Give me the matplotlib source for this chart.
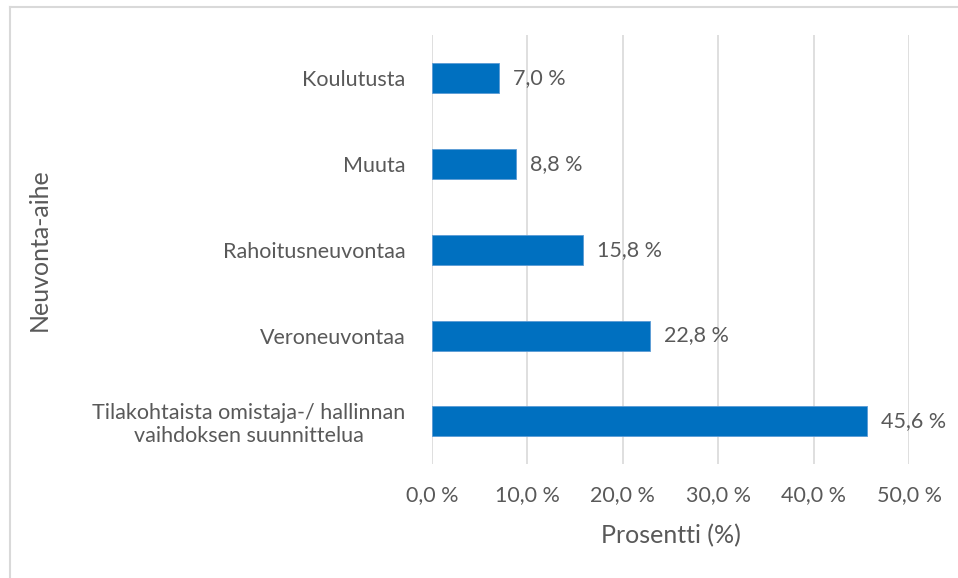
import matplotlib.pyplot as plt
from matplotlib.lines import Line2D

# Data (bottom to top as drawn)
categories = ["Tilakohtaista omistaja-/ hallinnan\nvaihdoksen suunnittelua",
              "Veroneuvontaa", "Rahoitusneuvontaa", "Muuta", "Koulutusta"]
values = [45.6, 22.8, 15.8, 8.8, 7.0]
xticks = [0, 10, 20, 30, 40, 50]

bar_color = "#0070C0"
text_color = "#595959"
grid_color = "#D9D9D9"

plt.rcParams['font.family'] = ['Lato', 'DejaVu Sans']

fig = plt.figure(figsize=(9.58, 5.78), dpi=100)
ax = fig.add_axes([0.451, 0.197, 0.498, 0.7416])

y = range(len(categories))
ax.barh(y, values, height=0.35, color=bar_color, edgecolor="#5B9BD5", linewidth=0.6, zorder=3)

# value labels
for yi, v in zip(y, values):
    ax.text(v + 1.5, yi, f"{v:.1f} %".replace(".", ","), va="center", ha="left",
            fontsize=15.5, color=text_color)

ax.set_xlim(0, 50)
ax.set_ylim(-0.5, len(categories) - 0.5)
ax.set_xticks(xticks)
ax.set_xticklabels([f"{t:.1f} %".replace(".", ",") for t in xticks])
ax.set_yticks(list(y))
ax.set_yticklabels(categories, multialignment="center")

ax.tick_params(axis="both", length=0, labelsize=15.5, labelcolor=text_color)
ax.tick_params(axis="y", pad=19)
ax.tick_params(axis="x", pad=15)

ax.grid(axis="x", color=grid_color, linewidth=1.2, zorder=0)
for s in ["top", "right", "bottom", "left"]:
    ax.spines[s].set_visible(False)

ax.set_xlabel("Prosentti (%)", fontsize=18, color=text_color, labelpad=14)
ax.set_ylabel("Neuvonta-aihe", fontsize=18, color=text_color)
ax.yaxis.set_label_coords(-0.8, 0.5)

# partial frame of the chart area (left and top edges)
fig.add_artist(Line2D([10 / 958, 10 / 958], [0, 1 - 7 / 578], transform=fig.transFigure,
                      color=grid_color, linewidth=1.5))
fig.add_artist(Line2D([10 / 958, 1], [1 - 7 / 578, 1 - 7 / 578], transform=fig.transFigure,
                      color=grid_color, linewidth=1.5))

fig.savefig("out.png", dpi=100)
